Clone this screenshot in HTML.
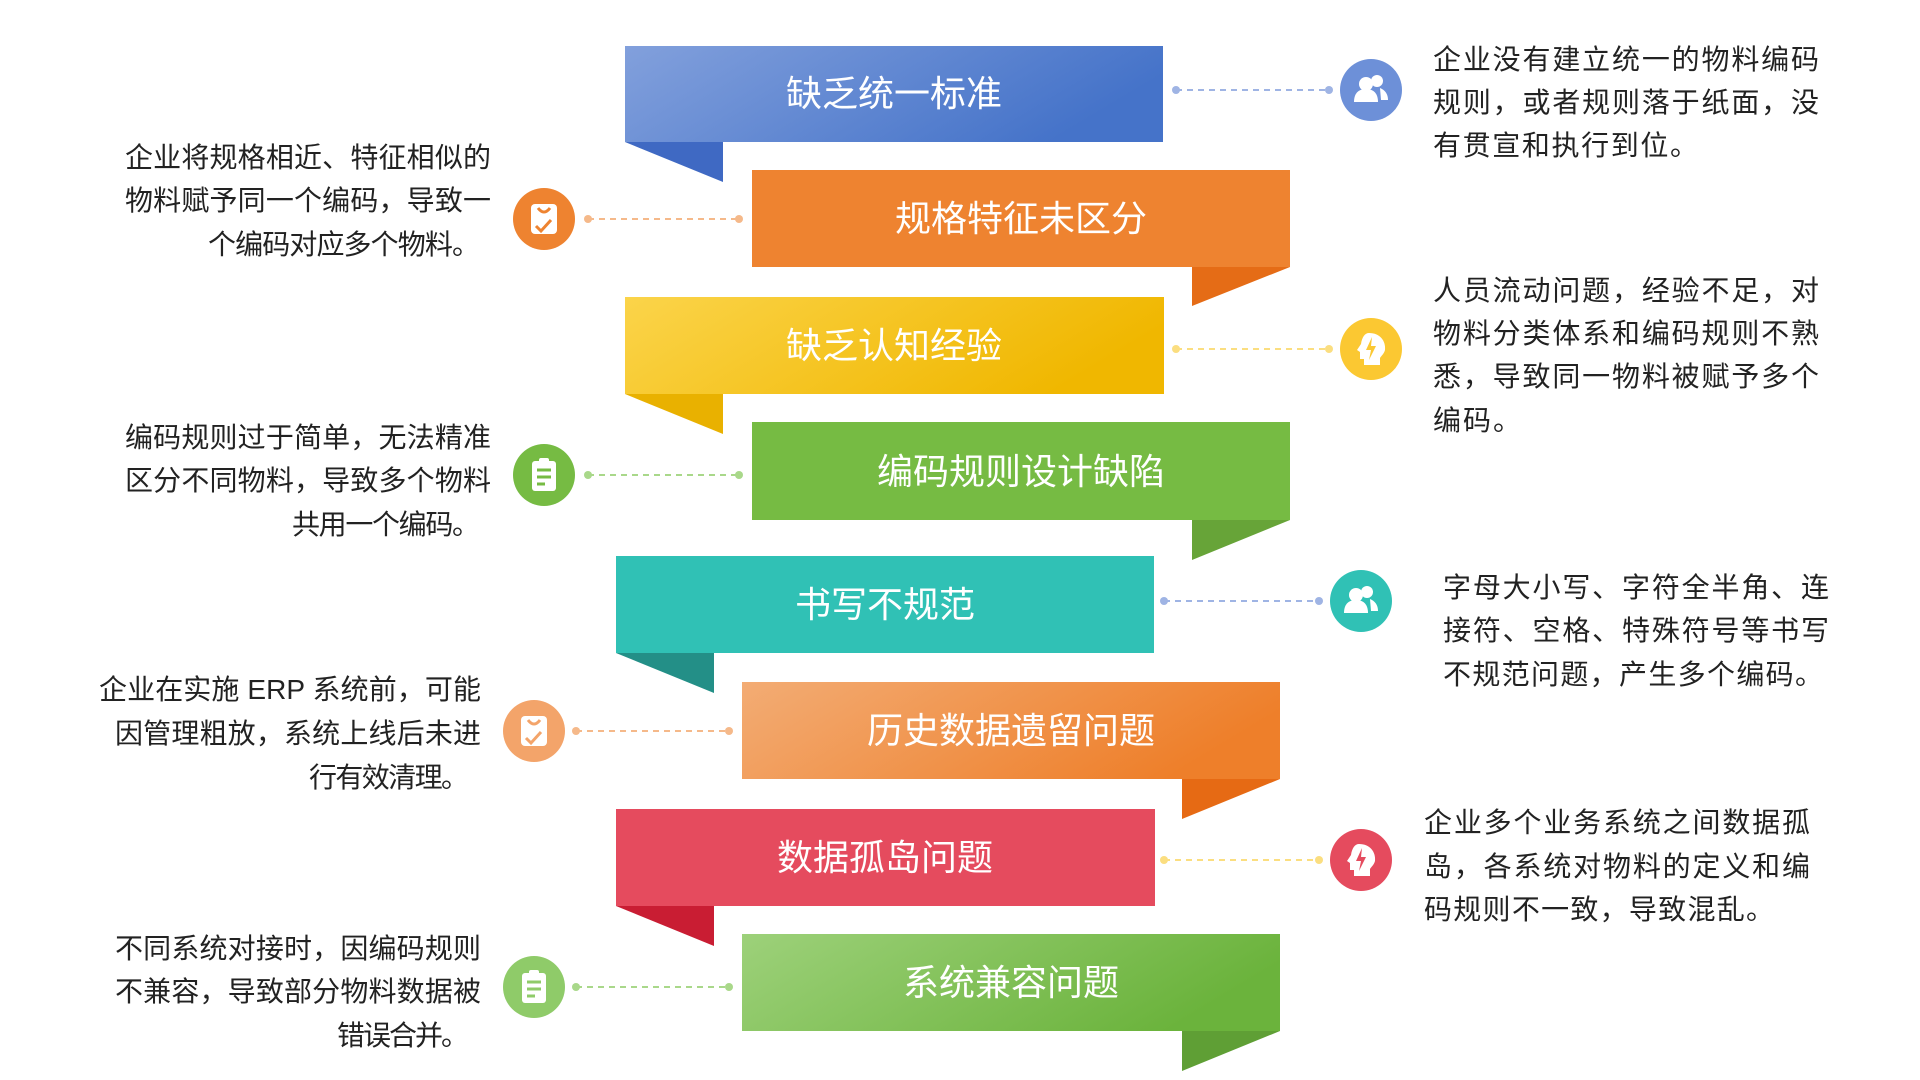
<!DOCTYPE html>
<html><head><meta charset="utf-8">
<style>
html,body{margin:0;padding:0;background:#fff;}
svg{display:block;}
.t{font-family:"Liberation Sans","Noto Sans CJK SC",sans-serif;font-size:28px;fill:#222;}
.b{font-family:"Liberation Sans","Noto Sans CJK SC",sans-serif;font-size:36px;fill:#fff;text-anchor:middle;}
</style></head><body>
<svg width="1920" height="1080" viewBox="0 0 1920 1080" xmlns="http://www.w3.org/2000/svg">
<defs>
<linearGradient id="g1" x1="0" y1="0" x2="1" y2="0.3"><stop offset="0" stop-color="#82a0dc"/><stop offset="1" stop-color="#4573c9"/></linearGradient>
<linearGradient id="g2" x1="0" y1="0" x2="1" y2="0"><stop offset="0" stop-color="#ee8330"/><stop offset="1" stop-color="#ee8330"/></linearGradient>
<linearGradient id="g3" x1="0" y1="0" x2="1" y2="0.3"><stop offset="0" stop-color="#fbd44a"/><stop offset="1" stop-color="#f0b700"/></linearGradient>
<linearGradient id="g4" x1="0" y1="0" x2="1" y2="0"><stop offset="0" stop-color="#76bb43"/><stop offset="1" stop-color="#76bb43"/></linearGradient>
<linearGradient id="g5" x1="0" y1="0" x2="1" y2="0"><stop offset="0" stop-color="#30c1b5"/><stop offset="1" stop-color="#30c1b5"/></linearGradient>
<linearGradient id="g6" x1="0" y1="0" x2="1" y2="0.3"><stop offset="0" stop-color="#f3ac74"/><stop offset="1" stop-color="#ee7f2a"/></linearGradient>
<linearGradient id="g7" x1="0" y1="0" x2="1" y2="0"><stop offset="0" stop-color="#e54b5e"/><stop offset="1" stop-color="#e54b5e"/></linearGradient>
<linearGradient id="g8" x1="0" y1="0" x2="1" y2="0.3"><stop offset="0" stop-color="#9dd17a"/><stop offset="1" stop-color="#6bb33c"/></linearGradient>
</defs>

<rect x="625" y="46" width="538" height="96" fill="url(#g1)"/>
<polygon points="625,142 723,142 723,182" fill="#3f69c3"/>
<text class="b" x="894" y="106">缺乏统一标准</text>

<rect x="752" y="170" width="538" height="97" fill="url(#g2)"/>
<polygon points="1192,267 1290,267 1192,306" fill="#e56c16"/>
<text class="b" x="1021" y="231">规格特征未区分</text>

<rect x="625" y="297" width="539" height="97" fill="url(#g3)"/>
<polygon points="625,394 723,394 723,434" fill="#e9b100"/>
<text class="b" x="894" y="358">缺乏认知经验</text>

<rect x="752" y="422" width="538" height="98" fill="url(#g4)"/>
<polygon points="1192,520 1290,520 1192,560" fill="#67a438"/>
<text class="b" x="1021" y="484">编码规则设计缺陷</text>

<rect x="616" y="556" width="538" height="97" fill="url(#g5)"/>
<polygon points="616,653 714,653 714,693" fill="#238f87"/>
<text class="b" x="885" y="617">书写不规范</text>

<rect x="742" y="682" width="538" height="97" fill="url(#g6)"/>
<polygon points="1182,779 1280,779 1182,819" fill="#e66a14"/>
<text class="b" x="1011" y="743">历史数据遗留问题</text>

<rect x="616" y="809" width="539" height="97" fill="url(#g7)"/>
<polygon points="616,906 714,906 714,946" fill="#c91d33"/>
<text class="b" x="885" y="870">数据孤岛问题</text>

<rect x="742" y="934" width="538" height="97" fill="url(#g8)"/>
<polygon points="1182,1031 1280,1031 1182,1071" fill="#5f9f35"/>
<text class="b" x="1011" y="995">系统兼容问题</text>

<g stroke-width="2" stroke-dasharray="6,5">
<line x1="1176" y1="90" x2="1329" y2="90" stroke="#9fb4e4"/>
<line x1="588" y1="219" x2="739" y2="219" stroke="#f5b98a"/>
<line x1="1176" y1="349" x2="1329" y2="349" stroke="#fbde80"/>
<line x1="588" y1="475" x2="739" y2="475" stroke="#a9d88a"/>
<line x1="1164" y1="601" x2="1319" y2="601" stroke="#9fb4e4"/>
<line x1="576" y1="731" x2="729" y2="731" stroke="#f5b98a"/>
<line x1="1164" y1="860" x2="1319" y2="860" stroke="#fbde80"/>
<line x1="576" y1="987" x2="729" y2="987" stroke="#a9d88a"/>
</g>
<g>
<circle cx="1176" cy="90" r="4" fill="#9fb4e4"/><circle cx="1329" cy="90" r="4" fill="#9fb4e4"/>
<circle cx="588" cy="219" r="4" fill="#f5b98a"/><circle cx="739" cy="219" r="4" fill="#f5b98a"/>
<circle cx="1176" cy="349" r="4" fill="#fbde80"/><circle cx="1329" cy="349" r="4" fill="#fbde80"/>
<circle cx="588" cy="475" r="4" fill="#a9d88a"/><circle cx="739" cy="475" r="4" fill="#a9d88a"/>
<circle cx="1164" cy="601" r="4" fill="#9fb4e4"/><circle cx="1319" cy="601" r="4" fill="#9fb4e4"/>
<circle cx="576" cy="731" r="4" fill="#f5b98a"/><circle cx="729" cy="731" r="4" fill="#f5b98a"/>
<circle cx="1164" cy="860" r="4" fill="#fbde80"/><circle cx="1319" cy="860" r="4" fill="#fbde80"/>
<circle cx="576" cy="987" r="4" fill="#a9d88a"/><circle cx="729" cy="987" r="4" fill="#a9d88a"/>
</g>

<defs>
<g id="people"><circle cx="-5" cy="-6" r="7" fill="#fff"/><path d="M-17,12 C-17,2 -11,-1 -5,-1 C1,-1 7,2 7,12 Z" fill="#fff"/><circle cx="6" cy="-9" r="6" fill="#fff"/><path d="M9,-2 C14,0 17,4 17,10 L10,10 Z" fill="#fff"/></g>
<g id="head"><path d="M-2,-16 C9,-16 15,-8 14,1 C13,5 10,7 9,9 L9,16 L-7,16 L-7,10 L-11,10 L-11,3 L-14,1 L-10,-5 C-9,-12 -6,-16 -2,-16 Z" fill="#fff"/></g>
<g id="bag"><rect x="-13" y="-15" width="26" height="30" rx="4" fill="#fff"/></g>
<g id="clip"><rect x="-12" y="-14" width="24" height="30" rx="3" fill="#fff"/><rect x="-5" y="-17" width="10" height="6" rx="2" fill="#fff"/></g>
</defs>

<circle cx="1371" cy="90" r="31" fill="#6d90d8"/><use href="#people" x="1371" y="90"/>
<circle cx="1371" cy="349" r="31" fill="#fbc832"/><use href="#head" x="1371" y="349"/><path d="M1372,337 L1366,350 L1371,350 L1369,360 L1376,346 L1371,346 Z" fill="#fbc832"/>
<circle cx="1361" cy="601" r="31" fill="#30c1b5"/><use href="#people" x="1361" y="601"/>
<circle cx="1361" cy="860" r="31" fill="#e54b5e"/><use href="#head" x="1361" y="860"/><path d="M1362,848 L1356,861 L1361,861 L1359,871 L1366,857 L1361,857 Z" fill="#e54b5e"/>

<circle cx="544" cy="219" r="31" fill="#ee8330"/><use href="#bag" x="544" y="219"/><path d="M538,208 Q544,216 550,208" stroke="#ee8330" stroke-width="3" fill="none"/><path d="M536,226 L541,231 L551,220" stroke="#ee8330" stroke-width="3" fill="none"/>
<circle cx="544" cy="475" r="31" fill="#76bb43"/><use href="#clip" x="544" y="475"/><g stroke="#76bb43" stroke-width="3"><line x1="537" y1="470" x2="551" y2="470"/><line x1="537" y1="477" x2="551" y2="477"/><line x1="537" y1="484" x2="545" y2="484"/></g>
<circle cx="534" cy="731" r="31" fill="#f3a46a"/><use href="#bag" x="534" y="731"/><path d="M528,720 Q534,728 540,720" stroke="#f3a46a" stroke-width="3" fill="none"/><path d="M526,738 L531,743 L541,732" stroke="#f3a46a" stroke-width="3" fill="none"/>
<circle cx="534" cy="987" r="31" fill="#8fcb69"/><use href="#clip" x="534" y="987"/><g stroke="#8fcb69" stroke-width="3"><line x1="527" y1="982" x2="541" y2="982"/><line x1="527" y1="989" x2="541" y2="989"/><line x1="527" y1="996" x2="535" y2="996"/></g>

<g class="t" lengthAdjust="spacing">
<text x="1433" y="69" textLength="386">企业没有建立统一的物料编码</text>
<text x="1433" y="112" textLength="386">规则，或者规则落于纸面，没</text>
<text x="1433" y="155" textLength="265">有贯宣和执行到位。</text>

<text x="1433" y="300" textLength="386">人员流动问题，经验不足，对</text>
<text x="1433" y="343" textLength="386">物料分类体系和编码规则不熟</text>
<text x="1433" y="386" textLength="386">悉，导致同一物料被赋予多个</text>
<text x="1433" y="430" textLength="88">编码。</text>

<text x="1443" y="597" textLength="386">字母大小写、字符全半角、连</text>
<text x="1443" y="640" textLength="386">接符、空格、特殊符号等书写</text>
<text x="1443" y="684" textLength="380">不规范问题，产生多个编码。</text>

<text x="1424" y="832" textLength="386">企业多个业务系统之间数据孤</text>
<text x="1424" y="876" textLength="386">岛，各系统对物料的定义和编</text>
<text x="1424" y="919" textLength="350">码规则不一致，导致混乱。</text>
</g>

<g class="t" text-anchor="end" lengthAdjust="spacing">
<text x="491" y="167" textLength="366">企业将规格相近、特征相似的</text>
<text x="491" y="210" textLength="366">物料赋予同一个编码，导致一</text>
<text x="480" y="254" textLength="272">个编码对应多个物料。</text>

<text x="491" y="447" textLength="366">编码规则过于简单，无法精准</text>
<text x="491" y="490" textLength="366">区分不同物料，导致多个物料</text>
<text x="480" y="534" textLength="188">共用一个编码。</text>

<text x="481" y="699" textLength="382">企业在实施 ERP 系统前，可能</text>
<text x="481" y="743" textLength="366">因管理粗放，系统上线后未进</text>
<text x="469" y="787" textLength="160">行有效清理。</text>

<text x="481" y="958" textLength="366">不同系统对接时，因编码规则</text>
<text x="481" y="1001" textLength="366">不兼容，导致部分物料数据被</text>
<text x="469" y="1045" textLength="132">错误合并。</text>
</g>
</svg>
</body></html>
